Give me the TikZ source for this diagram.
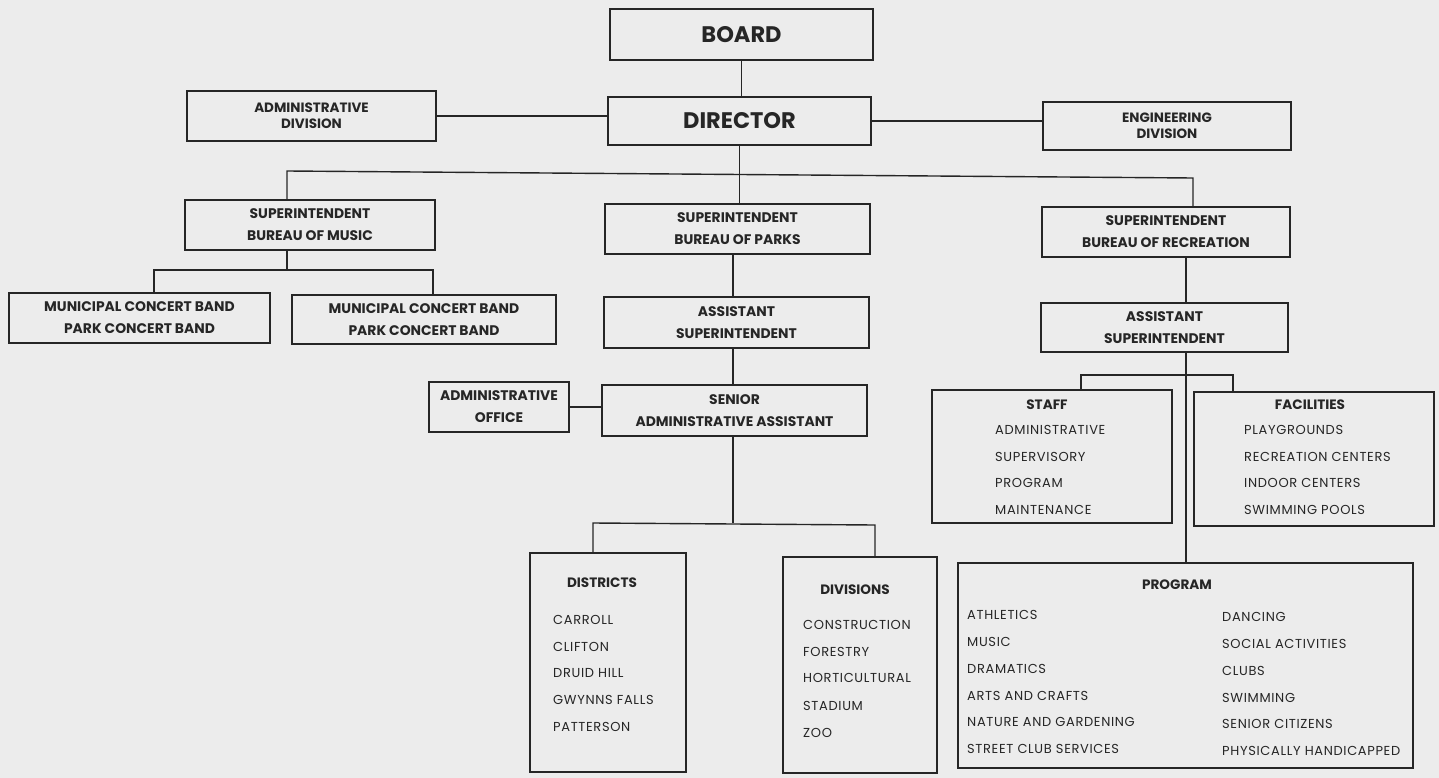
\documentclass[tikz,border=0pt]{standalone}
\usepackage{fontspec}
\setmainfont{Poppins}
\newfontfamily\itemfont[LetterSpace=5]{Poppins}
\definecolor{bg}{RGB}{236,236,236}
\definecolor{ink}{RGB}{38,38,38}
\begin{document}
\begin{tikzpicture}[x=1pt,y=-1pt,
  box/.style={draw=ink, line width=1.6pt, inner sep=0pt, align=center, text=ink},
  conn/.style={draw=ink, line width=1.4pt},
  big/.style={font=\fontsize{22.5}{26}\selectfont\bfseries},
  lbl/.style={font=\fontsize{13.9}{22}\selectfont\bfseries},
  small/.style={font=\fontsize{13.5}{16}\selectfont\bfseries},
  ttl/.style={inner sep=0pt, text=ink, font=\fontsize{13.6}{14}\selectfont\bfseries},
  item/.style={anchor=west, inner sep=0pt, text=ink, font=\fontsize{13}{14}\itemfont}]
\fill[bg] (0,0) rectangle (1439,778);
\useasboundingbox (0,0) rectangle (1439,778);

% top level
\node[box,big,minimum width=263pt,minimum height=51pt] (board) at (741.5,34.5) {BOARD};
\node[box,big,minimum width=263pt,minimum height=48pt] (director) at (739.5,121) {DIRECTOR};
\node[box,small,minimum width=249pt,minimum height=50pt] (admdiv) at (311.5,116) {ADMINISTRATIVE\\DIVISION};
\node[box,small,minimum width=248pt,minimum height=48pt] (engdiv) at (1167,126) {ENGINEERING\\DIVISION};

% bureaus
\node[box,lbl,minimum width=250pt,minimum height=50pt] (music) at (310,225) {SUPERINTENDENT\\BUREAU OF MUSIC};
\node[box,lbl,minimum width=265pt,minimum height=50pt] (parks) at (737.5,229) {SUPERINTENDENT\\BUREAU OF PARKS};
\node[box,lbl,minimum width=248pt,minimum height=50pt] (rec) at (1166,232) {SUPERINTENDENT\\BUREAU OF RECREATION};

% music
\node[box,lbl,minimum width=261pt,minimum height=50pt] (band1) at (139.5,318) {MUNICIPAL CONCERT BAND\\PARK CONCERT BAND};
\node[box,lbl,minimum width=264pt,minimum height=49pt] (band2) at (424,319.5) {MUNICIPAL CONCERT BAND\\PARK CONCERT BAND};

% parks
\node[box,lbl,minimum width=265pt,minimum height=51pt] (passt) at (736.5,322.5) {ASSISTANT\\SUPERINTENDENT};
\node[box,lbl,minimum width=265pt,minimum height=51pt] (senior) at (734.5,410.5) {SENIOR\\ADMINISTRATIVE ASSISTANT};
\node[box,lbl,minimum width=140pt,minimum height=50pt] (admoff) at (499,407) {ADMINISTRATIVE\\OFFICE};
\node[box,minimum width=156pt,minimum height=219pt] (districts) at (608,662.5) {};
\node[box,minimum width=154pt,minimum height=216pt] (divisions) at (860,665) {};

% recreation
\node[box,lbl,minimum width=247pt,minimum height=49pt] (rasst) at (1164.5,327.5) {ASSISTANT\\SUPERINTENDENT};
\node[box,minimum width=240pt,minimum height=133pt] (staff) at (1052,456.5) {};
\node[box,minimum width=240pt,minimum height=134pt] (fac) at (1314,459) {};
\node[box,minimum width=455pt,minimum height=205pt] (program) at (1185.5,665.5) {};

% list texts
\node[ttl] (stafft) at (1047,405) {STAFF};
\node[item] (st1) at (995,430) {ADMINISTRATIVE};
\node[item] (st2) at (995,457) {SUPERVISORY};
\node[item] (st3) at (995,483) {PROGRAM};
\node[item] (st4) at (995,510) {MAINTENANCE};

\node[ttl] (fact) at (1310,405) {FACILITIES};
\node[item] (fa1) at (1244,430) {PLAYGROUNDS};
\node[item] (fa2) at (1244,457) {RECREATION CENTERS};
\node[item] (fa3) at (1244,483) {INDOOR CENTERS};
\node[item] (fa4) at (1244,510) {SWIMMING POOLS};

\node[ttl] (distt) at (602,583) {DISTRICTS};
\node[item] (di1) at (553,620) {CARROLL};
\node[item] (di2) at (553,647) {CLIFTON};
\node[item] (di3) at (553,673) {DRUID HILL};
\node[item] (di4) at (553,700) {GWYNNS FALLS};
\node[item] (di5) at (553,727) {PATTERSON};

\node[ttl] (divt) at (855,590) {DIVISIONS};
\node[item] (dv1) at (803,625) {CONSTRUCTION};
\node[item] (dv2) at (803,652) {FORESTRY};
\node[item] (dv3) at (803,678) {HORTICULTURAL};
\node[item] (dv4) at (803,706) {STADIUM};
\node[item] (dv5) at (803,733) {ZOO};

\node[ttl] (progt) at (1177,585) {PROGRAM};
\node[item] (pl1) at (967,615) {ATHLETICS};
\node[item] (pl2) at (967,642) {MUSIC};
\node[item] (pl3) at (967,669) {DRAMATICS};
\node[item] (pl4) at (967,696) {ARTS AND CRAFTS};
\node[item] (pl5) at (967,722) {NATURE AND GARDENING};
\node[item] (pl6) at (967,749) {STREET CLUB SERVICES};
\node[item] (pr1) at (1222,617) {DANCING};
\node[item] (pr2) at (1222,644) {SOCIAL ACTIVITIES};
\node[item] (pr3) at (1222,671) {CLUBS};
\node[item] (pr4) at (1222,698) {SWIMMING};
\node[item] (pr5) at (1222,724) {SENIOR CITIZENS};
\node[item] (pr6) at (1222,751) {PHYSICALLY HANDICAPPED};

% coordinates for buses
\coordinate (busL) at (287,171);
\coordinate (busR) at (1193,178);
\coordinate (mb1) at (154,270);
\coordinate (mb2) at (433,270);
\coordinate (mv) at (287,0);
\coordinate (pv) at (733,0);
\coordinate (dL) at (593,523);
\coordinate (dR) at (875,525);
\coordinate (rv) at (1186,0);
\coordinate (sL) at (1081,375);
\coordinate (sR) at (1233,375);

% connectors
\draw[conn] (board.south) -- (board.south |- director.north);
\draw[conn] (admdiv.east) -- (admdiv.east -| director.west);
\draw[conn] (director.east) -- (director.east -| engdiv.west);
\draw[conn] (director.south) -- (director.south |- parks.north);
\draw[conn] (busL |- music.north) -- (busL) -- (busR) -- (busR |- rec.north);

\draw[conn] (mv |- music.south) -- (mv |- mb1);
\draw[conn] (mb1 |- band1.north) -- (mb1) -- (mb2) -- (mb2 |- band2.north);

\draw[conn] (pv |- parks.south) -- (pv |- passt.north);
\draw[conn] (pv |- passt.south) -- (pv |- senior.north);
\draw[conn] (admoff.east) -- (admoff.east -| senior.west);
\draw[conn] (pv |- senior.south) -- (pv |- dL);
\draw[conn] (dL |- districts.north) -- (dL) -- (dR) -- (dR |- divisions.north);

\draw[conn] (rv |- rec.south) -- (rv |- rasst.north);
\draw[conn] (rv |- rasst.south) -- (rv |- program.north);
\draw[conn] (sL |- staff.north) -- (sL) -- (sR) -- (sR |- fac.north);
\end{tikzpicture}
\end{document}
